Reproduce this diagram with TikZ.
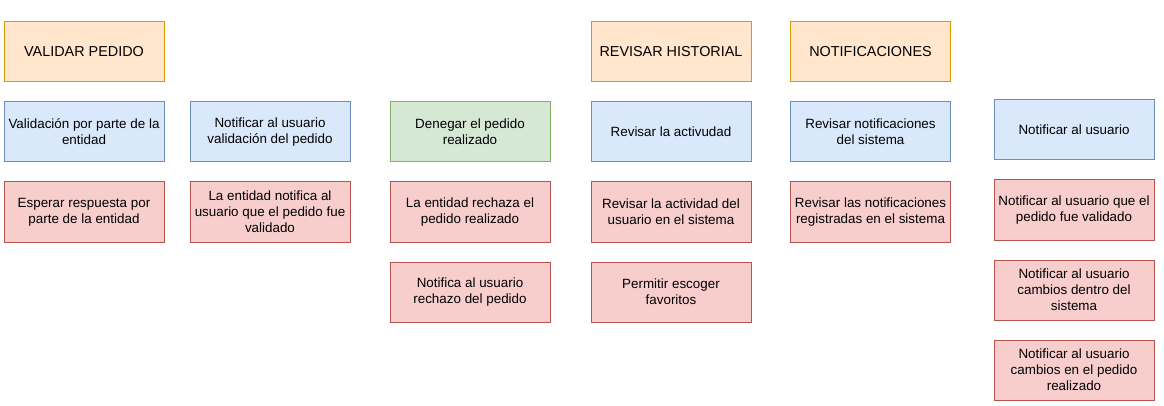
\documentclass[tikz,border=0pt]{standalone}
\usepackage{fontspec}
\setmainfont{Liberation Sans}
\usepackage{xcolor}
\usetikzlibrary{positioning}
\definecolor{titfill}{HTML}{FFE6CC}
\definecolor{titdraw}{HTML}{D79B00}
\definecolor{casofill}{HTML}{DAE8FC}
\definecolor{casodraw}{HTML}{6C8EBF}
\definecolor{okfill}{HTML}{D5E8D4}
\definecolor{okdraw}{HTML}{82B366}
\definecolor{tarefill}{HTML}{F8CECC}
\definecolor{taredraw}{HTML}{B85450}
\tikzset{
    caixa/.style={
        rectangle,
        draw,
        line width=1pt,
        align=center,
        inner sep=1pt,
        outer sep=0pt,
        minimum width=160pt,
        minimum height=60pt,
        font=\fontsize{13.4}{16}\selectfont
    },
    titulo/.style={caixa, fill=titfill, draw=titdraw, font=\fontsize{14.4}{17}\selectfont},
    caso/.style={caixa, fill=casofill, draw=casodraw},
    aceito/.style={caixa, fill=okfill, draw=okdraw},
    tarefa/.style={caixa, fill=tarefill, draw=taredraw}
}

\begin{document}
\begin{tikzpicture}[x=1pt, y=1pt, node distance=20pt and 26pt]
        \useasboundingbox (0,0) rectangle (1164,-406);
        % validar pedido
        \node[titulo] (validar) at (84,-52) {VALIDAR PEDIDO};
        \node[caso, below=of validar] (validacao)
            {Validación por parte de la\\entidad};
        \node[tarefa, below=of validacao] (esperar)
            {Esperar respuesta por\\parte de la entidad};
        \node[caso, right=of validacao] (notifvalid)
            {Notificar al usuario\\validación del pedido};
        \node[tarefa, below=of notifvalid] (entnotif)
            {La entidad notifica al\\usuario que el pedido fue\\validado};
        % denegar
        \node[aceito, right=40pt of notifvalid] (denegar)
            {Denegar el pedido\\realizado};
        \node[tarefa, below=of denegar] (rechaza)
            {La entidad rechaza el\\pedido realizado};
        \node[tarefa, below=of rechaza] (notifrech)
            {Notifica al usuario\\rechazo del pedido};
        % historial
        \node[caso, right=41pt of denegar] (actividad)
            {Revisar la activudad};
        \node[titulo, above=of actividad] (historial) {REVISAR HISTORIAL};
        \node[tarefa, below=of actividad] (revact)
            {Revisar la actividad del\\usuario en el sistema};
        \node[tarefa, below=of revact] (favoritos)
            {Permitir escoger\\favoritos};
        % notificaciones
        \node[caso, right=39.5pt of actividad] (revnotif)
            {Revisar notificaciones\\del sistema};
        \node[titulo, above=of revnotif] (notificaciones) {NOTIFICACIONES};
        \node[tarefa, below=of revnotif] (registradas)
            {Revisar las notificaciones\\registradas en el sistema};
        % notificar al usuario
        \node[caso, right=43.5pt of revnotif, yshift=2pt] (notificar)
            {Notificar al usuario};
        \node[tarefa, below=of notificar] (fuevalid)
            {Notificar al usuario que el\\pedido fue validado};
        \node[tarefa, below=of fuevalid] (cambsist)
            {Notificar al usuario\\cambios dentro del\\sistema};
        \node[tarefa, below=of cambsist] (cambped)
            {Notificar al usuario\\cambios en el pedido\\realizado};
    \end{tikzpicture}
\end{document}
